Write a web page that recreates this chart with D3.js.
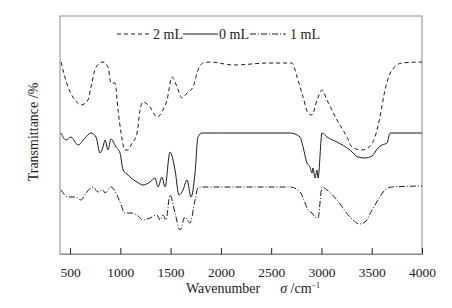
<!DOCTYPE html>
<html>
<head>
<meta charset="utf-8">
<script src="https://cdn.jsdelivr.net/npm/d3@7"></script>
<style>
  body { margin: 0; background: #fff; }
  svg { display: block; font-family: "Liberation Serif", "Times New Roman", serif; }
</style>
</head>
<body>
<svg id="svg_ir" width="452" height="308"></svg>
<script>

// wavenumber / transmittance (arbitrary offset units)
const wn2 = [410, 480, 549, 609, 678, 708, 758, 828, 877, 907, 947, 977, 1007, 1046, 1076, 1106, 1166, 1196, 1225, 1295, 1365, 1424, 1464, 1514, 1564, 1613, 1663, 1723, 1772, 1822, 1900, 2120, 2488, 2707, 2757, 2817, 2866, 2906, 2956, 3006, 3055, 3155, 3254, 3304, 3403, 3463, 3533, 3582, 3632, 3702, 3801, 4000];
const t2 = [96, 83.5, 77, 74.5, 77, 83.5, 93.5, 96, 93.5, 85.5, 85.5, 72, 60.5, 52, 52, 54.5, 60.5, 72, 76, 73.5, 68.5, 72, 77, 88.5, 83.5, 78, 80.5, 83.5, 92, 95.5, 96, 94.5, 95.5, 95.5, 88.5, 78.5, 70.5, 69.5, 77, 82, 77, 67, 58.5, 53.5, 52, 53, 58.5, 68.5, 82, 92, 95.5, 96];

const wn0 = [410, 460, 509, 579, 649, 708, 758, 798, 828, 848, 877, 907, 957, 997, 1027, 1076, 1106, 1166, 1225, 1295, 1345, 1375, 1414, 1444, 1494, 1544, 1583, 1623, 1663, 1703, 1743, 1772, 1812, 2000, 2687, 2787, 2817, 2856, 2886, 2906, 2916, 2936, 2956, 2966, 3006, 3055, 3155, 3284, 3364, 3433, 3503, 3562, 3602, 3652, 3682, 4000];
const t0 = [60.5, 57, 58.5, 54.5, 58, 60.5, 58.5, 50.5, 53.5, 57, 52, 57.5, 53.5, 50.5, 42, 39.5, 38, 36, 34.5, 36, 38, 33.5, 38.5, 33.5, 51, 42, 29.5, 32, 37, 28.5, 40.5, 58.5, 60.5, 60.5, 60.5, 58.5, 53.5, 45.5, 43.5, 40.5, 43, 38, 42, 38, 60.5, 58.5, 56, 52, 48.5, 48, 49, 53, 54.5, 55.5, 60.5, 60.5];

const wn1 = [410, 480, 549, 609, 659, 728, 778, 828, 848, 907, 957, 997, 1046, 1106, 1166, 1225, 1295, 1365, 1395, 1424, 1454, 1494, 1544, 1593, 1643, 1693, 1743, 1772, 1822, 2687, 2787, 2837, 2866, 2906, 2936, 2966, 3006, 3055, 3155, 3284, 3380, 3433, 3503, 3562, 3632, 3702, 4000];
const t1 = [32, 28.5, 28.5, 27, 30.5, 33.5, 31, 32, 30.5, 33.5, 30.5, 26, 20.5, 20.5, 19.5, 17, 18, 19.5, 17, 19.5, 17, 29.5, 20.5, 12, 18.5, 15.5, 27, 33, 33.5, 33.5, 31, 25.5, 22, 20.5, 18.5, 18, 33.5, 32, 27, 18.5, 15, 16, 22, 27, 32, 33.5, 34];

const xTicks = [500, 1000, 1500, 2000, 2500, 3000, 3500, 4000];
const seriesNames = ['2 mL', '0 mL', '1 mL'];
const dashes = ['4,3', null, '6,2,1,2'];

function chartIR(_svg) {

  svg = d3.select(`#svg_${_svg}`);

  const padLeft = 60, padRight = 30, padTop = 16, padBottom = 54;
  const width = +svg.attr('width'), height = +svg.attr('height');
  const innerWidth = width - padLeft - padRight;
  const innerHeight = height - padTop - padBottom;

  const series = [
    { name: seriesNames[0], dash: dashes[0], values: wn2.map((w, i) => ({ w, t: t2[i] })) },
    { name: seriesNames[1], dash: dashes[1], values: wn0.map((w, i) => ({ w, t: t0[i] })) },
    { name: seriesNames[2], dash: dashes[2], values: wn1.map((w, i) => ({ w, t: t1[i] })) }
  ];

  const x = d3.scaleLinear().domain([400, 4000]).range([0, innerWidth]);
  const y = d3.scaleLinear().domain([0, 119]).range([innerHeight, 0]);

  const line = d3.line()
    .x(d => x(d.w))
    .y(d => y(d.t))
    .curve(d3.curveMonotoneX);

  const pad = svg.append('g').attr('transform', `translate(${padLeft},${padTop})`);

  // frame
  pad.append('rect')
    .attr('x', 0).attr('y', 0)
    .attr('width', innerWidth).attr('height', innerHeight)
    .attr('fill', 'none')
    .attr('stroke', '#8a8a8a')
    .attr('stroke-width', 1);

  // bottom axis, ticks pointing inward
  const xAxis = d3.axisBottom(x)
    .tickValues(xTicks)
    .tickFormat(d3.format('d'))
    .tickSizeInner(-6)
    .tickSizeOuter(0)
    .tickPadding(13);

  const gx = pad.append('g')
    .attr('transform', `translate(0,${innerHeight})`)
    .call(xAxis);
  gx.select('.domain').attr('stroke', '#8a8a8a');
  gx.selectAll('.tick line').attr('stroke', '#222');
  gx.selectAll('.tick text')
    .attr('font-family', '"Liberation Serif", serif')
    .attr('font-size', 13.5)
    .attr('fill', '#222');

  // spectra
  pad.selectAll('.spec').data(series)
    .join('path')
    .attr('class', 'spec')
    .attr('d', d => line(d.values))
    .attr('fill', 'none')
    .attr('stroke', '#1a1a1a')
    .attr('stroke-width', 1)
    .attr('stroke-dasharray', d => d.dash);

  // legend
  const legY = 34;
  const legItems = [
    { x0: 57, x1: 92, tx: 93 },
    { x0: 123, x1: 158, tx: 159 },
    { x0: 190, x1: 226, tx: 230 }
  ];
  const leg = svg.append('g').attr('transform', `translate(${padLeft},0)`);
  leg.selectAll('line').data(series)
    .join('line')
    .attr('x1', (d, i) => legItems[i].x0)
    .attr('x2', (d, i) => legItems[i].x1)
    .attr('y1', legY).attr('y2', legY)
    .attr('stroke', '#1a1a1a')
    .attr('stroke-width', 1)
    .attr('stroke-dasharray', d => d.dash);
  leg.selectAll('text').data(series)
    .join('text')
    .attr('x', (d, i) => legItems[i].tx)
    .attr('y', legY + 5)
    .attr('font-size', 14)
    .attr('fill', '#222')
    .text(d => d.name);

  // axis titles
  const xt = svg.append('text')
    .attr('x', 253)
    .attr('y', 293)
    .attr('text-anchor', 'middle')
    .attr('font-size', 14)
    .attr('fill', '#222');
  xt.append('tspan').text('Wavenumber');
  xt.append('tspan').attr('dx', 20).attr('font-style', 'italic').text('σ');
  xt.append('tspan').text(' /cm');
  xt.append('tspan').attr('dy', -5).attr('font-size', 8).text('−1');

  svg.append('text')
    .attr('transform', 'translate(38,132) rotate(-90)')
    .attr('text-anchor', 'middle')
    .attr('font-size', 14)
    .attr('fill', '#222')
    .text('Transmittance /%');
}

chartIR('ir');
</script>
</body>
</html>
